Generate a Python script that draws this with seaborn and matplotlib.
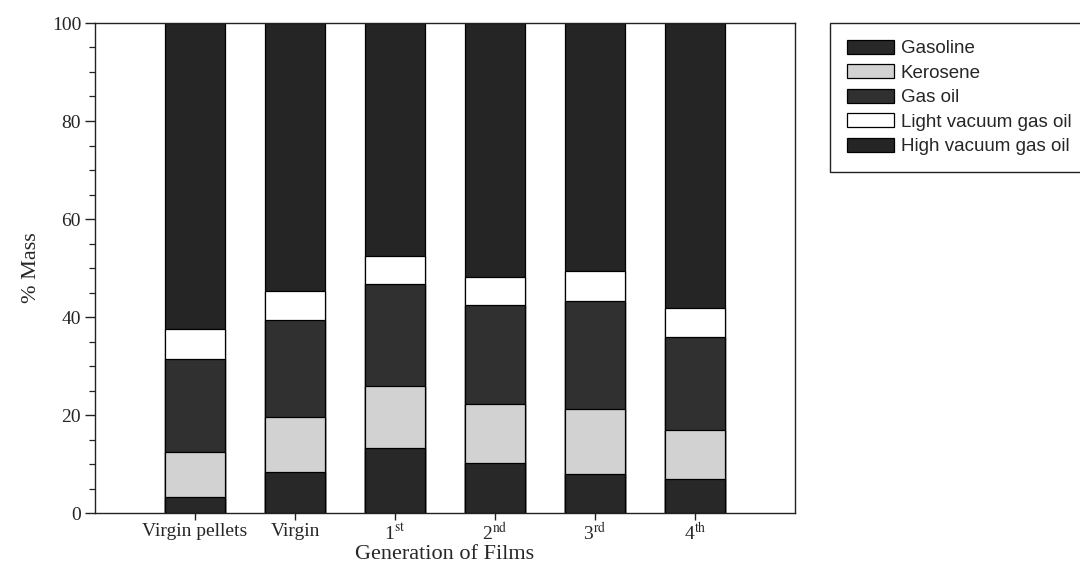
import numpy as np
import pandas as pd
import matplotlib
matplotlib.use("Agg")
import matplotlib.pyplot as plt
from matplotlib.patches import Patch
from matplotlib.ticker import MultipleLocator
import seaborn as sns

# Distillation fractions (% mass) of pyrolysis oil for each film generation
generations = ["Virgin pellets", "Virgin", r"1$^{\mathrm{st}}$", r"2$^{\mathrm{nd}}$",
               r"3$^{\mathrm{rd}}$", r"4$^{\mathrm{th}}$"]
gasoline = [3.3, 8.3, 13.2, 10.3, 8.0, 6.9]
kerosene = [9.1, 11.3, 12.7, 11.9, 13.3, 10.0]
gas_oil = [19.0, 19.8, 20.8, 20.2, 22.0, 19.0]
light_vgo = [6.2, 6.0, 5.8, 5.8, 6.1, 6.0]
high_vgo = [62.4, 54.6, 47.5, 51.8, 50.6, 58.1]

fractions = ["Gasoline", "Kerosene", "Gas oil", "Light vacuum gas oil", "High vacuum gas oil"]
colors = ["#282828", "#d2d2d2", "#303030", "#ffffff", "#252525"]

sns.set_style("ticks")
plt.rcParams["font.family"] = ["Liberation Serif", "DejaVu Serif"]
plt.rcParams["mathtext.fontset"] = "stix"

fig = plt.figure(figsize=(10.8, 5.7), dpi=100)
ax = fig.add_axes([95 / 1080, 57 / 570, 700 / 1080, 490 / 570])

df = pd.DataFrame({"generation": generations})
segments = [gasoline, kerosene, gas_oil, light_vgo, high_vgo]
cumulative = np.cumsum(np.array(segments), axis=0)

# Stack by overdrawing cumulative totals, tallest first
for i in range(len(fractions) - 1, -1, -1):
    df["top"] = cumulative[i]
    sns.barplot(data=df, x="generation", y="top", color=colors[i], saturation=1,
                width=0.6, edgecolor="black", linewidth=0.9, ax=ax,
                order=generations)

ax.set_xlim(-1, 6)
ax.set_ylim(0, 100)
ax.yaxis.set_major_locator(MultipleLocator(20))
ax.yaxis.set_minor_locator(MultipleLocator(5))
ax.tick_params(axis="y", which="major", direction="out", length=7, width=1,
               labelsize=14, color="#222222", pad=3)
ax.tick_params(axis="y", which="minor", direction="out", length=4, width=0.9,
               color="#222222")
ax.tick_params(axis="x", direction="out", length=5, width=1, labelsize=14,
               color="#222222", pad=2)
for s in ax.spines.values():
    s.set_visible(True)
    s.set_linewidth(1.0)
    s.set_color("#222222")

ax.set_xlabel("Generation of Films", fontsize=16, labelpad=0)
ax.set_ylabel("% Mass", fontsize=16, labelpad=8)

handles = [Patch(facecolor=c, edgecolor="black", linewidth=0.9) for c in colors]
leg = fig.legend(handles, fractions, loc="upper left",
                 bbox_to_anchor=(830 / 1080, 1 - 23 / 570),
                 prop={"family": "Liberation Sans", "size": 13.5},
                 frameon=True, fancybox=False, edgecolor="#222222",
                 framealpha=1, borderpad=0.9, labelspacing=0.38,
                 handlelength=2.5, handleheight=0.75, handletextpad=0.38,
                 borderaxespad=0)
leg.get_frame().set_linewidth(1.0)

fig.savefig("out.png", dpi=100)
